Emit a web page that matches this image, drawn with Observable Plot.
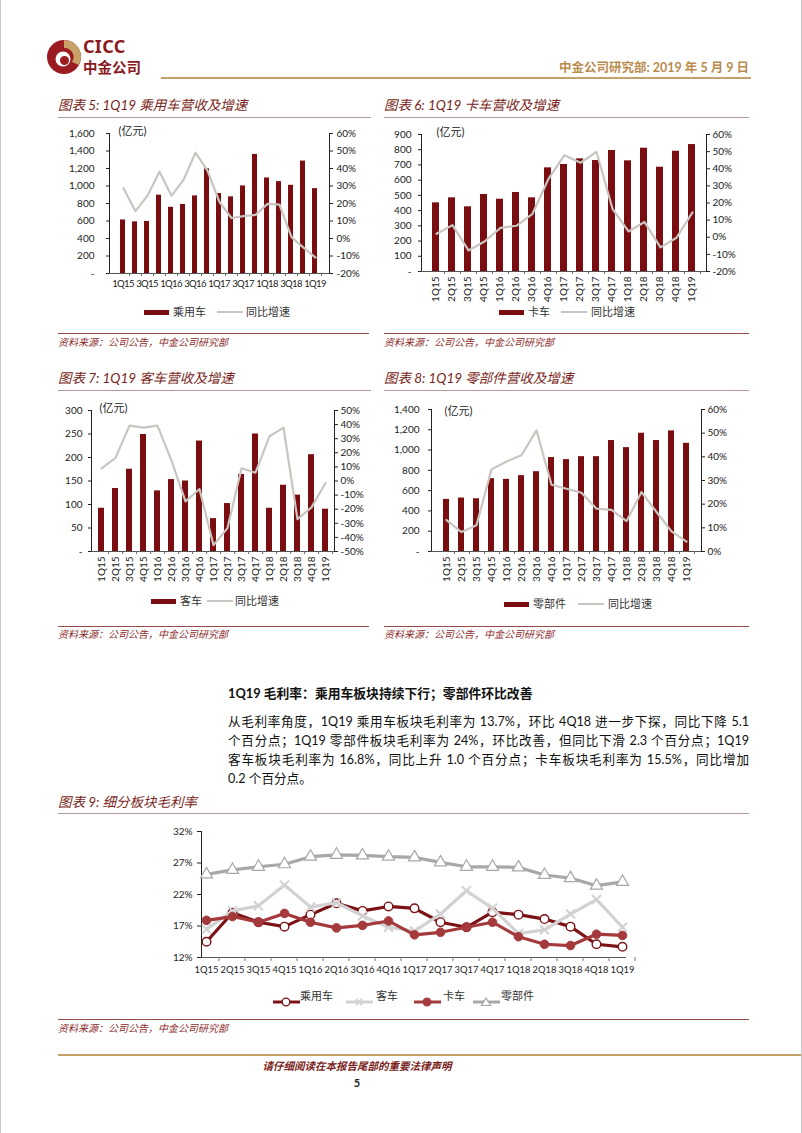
<!DOCTYPE html>
<html><head><meta charset="utf-8">
<script src="https://cdn.jsdelivr.net/npm/d3@7"></script>
<script src="https://cdn.jsdelivr.net/npm/@observablehq/plot@0.6"></script>
<style>
body{margin:0;background:#fff;}
#page{position:relative;width:802px;height:1133px;overflow:hidden;box-sizing:border-box;border-left:1px solid #c8c8c8;border-right:1px solid #c8c8c8;font-family:Lato,"Noto Sans CJK SC",sans-serif;color:#222;background:#fff;}
#page > *{position:absolute;}
.title{font-style:italic;color:#7a1f22;font-size:13.5px;white-space:nowrap;line-height:16px;}
.uline{height:0;border-top:1px solid #b39a9a;}
.srcline{height:0;border-top:1px solid #9b4a4a;}
.src{font-style:italic;color:#8b2c2c;font-size:10px;white-space:nowrap;line-height:12px;}
.lg{font-size:11px;color:#333;white-space:nowrap;line-height:12px;}
.para{font-size:12.6px;line-height:18px;width:521px;text-align:justify;text-align-last:justify;white-space:nowrap;color:#111;}
</style></head>
<body><div id="page"></div>
<script>
// ---------------- data ----------------
const quarters = ["1Q15","2Q15","3Q15","4Q15","1Q16","2Q16","3Q16","4Q16","1Q17","2Q17","3Q17","4Q17","1Q18","2Q18","3Q18","4Q18","1Q19"];

const carRevenue = [612, 590, 595, 895, 757, 789, 887, 1196, 914, 876, 1001, 1361, 1092, 1050, 1008, 1285, 970];
const carGrowth  = [28.7, 15.6, 24.5, 38.2, 24.4, 33.5, 49.0, 38.8, 20.8, 11.7, 12.8, 13.5, 19.8, 19.4, 0.8, -5.2, -10.9];

const truckRevenue = [451, 484, 425, 506, 475, 519, 484, 681, 703, 740, 729, 795, 727, 810, 685, 790, 834];
const truckGrowth  = [2.0, 7.1, -7.7, -2.5, 5.5, 6.7, 13.7, 34.1, 47.9, 43.5, 49.9, 16.6, 3.4, 8.9, -5.9, -0.3, 14.5];

const busRevenue = [92, 134, 175, 249, 129, 153, 150, 235, 70, 102, 164, 250, 92, 141, 120, 206, 90];
const busGrowth  = [9.0, 16.4, 39.3, 37.9, 39.3, 14.4, -14.5, -5.7, -45.5, -33.4, 9.0, 5.9, 31.7, 37.9, -27.1, -18.7, -1.4];

const partsRevenue = [514, 527, 520, 718, 711, 748, 787, 926, 906, 935, 935, 1094, 1024, 1166, 1094, 1189, 1067];
const partsGrowth  = [13.3, 8.2, 11.1, 34.7, 38.0, 40.7, 51.2, 28.2, 26.5, 24.8, 18.1, 17.6, 12.8, 25.1, 16.7, 8.5, 4.2];

const marginCar   = [14.5, 19.1, 17.6, 16.9, 18.8, 20.6, 19.4, 20.1, 19.8, 17.6, 16.8, 19.2, 18.8, 18.1, 16.9, 14.1, 13.7];
const marginBus   = [16.5, 19.4, 20.2, 23.5, 20.0, 20.7, 18.6, 16.8, 16.2, 18.9, 22.6, 19.8, 15.8, 16.4, 18.9, 21.2, 16.8];
const marginTruck = [17.9, 18.5, 17.6, 19.0, 17.6, 16.7, 17.1, 17.8, 15.6, 16.0, 16.8, 17.6, 15.3, 14.1, 13.9, 15.7, 15.5];
const marginParts = [25.2, 25.9, 26.4, 26.8, 28.0, 28.3, 28.2, 28.0, 27.9, 27.1, 26.4, 26.4, 26.3, 25.1, 24.6, 23.4, 24.0];

const carTicks   = [0,200,400,600,800,1000,1200,1400,1600];
const truckTicks = [0,100,200,300,400,500,600,700,800,900];
const busTicks   = [0,50,100,150,200,250,300];
const partsTicks = [0,200,400,600,800,1000,1200,1400];
const growthTicksA = [-20,-10,0,10,20,30,40,50,60];
const growthTicksBus = [-50,-40,-30,-20,-10,0,10,20,30,40,50];
const growthTicksParts = [0,10,20,30,40,50,60];
const marginTicks = [12,17,22,27,32];

const titles = ["图表 5: 1Q19 乘用车营收及增速","图表 6: 1Q19 卡车营收及增速","图表 7: 1Q19 客车营收及增速","图表 8: 1Q19 零部件营收及增速","图表 9: 细分板块毛利率"];
const seriesNames = ["乘用车","卡车","客车","零部件"];
const growthName = "同比增速";
const unitLabel = "(亿元)";
const sourceText = "资料来源：公司公告，中金公司研究部";
const marginNames = ["乘用车","客车","卡车","零部件"];

// ---------------- helpers ----------------
const BAR = "#7a0d10";
const LINE = "#c9c5c0";
const page = document.getElementById("page");
function add(html, left, top, cls, extra) {
  const d = document.createElement("div");
  if (cls) d.className = cls;
  d.style.left = left + "px"; d.style.top = top + "px";
  if (extra) Object.assign(d.style, extra);
  d.innerHTML = html;
  page.appendChild(d);
  return d;
}
const baseStyle = {fontFamily: 'Lato, "Noto Sans CJK SC", sans-serif', fontSize: "10px", color: "#222", background: "transparent", overflow: "visible"};

function dual(c) {
  const table = quarters.map((q, i) => ({q, v: c.values[i], g: c.growth[i]}));
  const step = (c.width - c.ml - c.mr) / quarters.length;
  const xs = {domain: quarters, paddingInner: c.pad, paddingOuter: c.pad / 2};
  const dims = {width: c.width, height: c.height, marginLeft: c.ml, marginRight: c.mr, marginTop: c.mt, marginBottom: c.mb, style: baseStyle};
  const bars = Plot.plot({
    ...dims,
    x: xs,
    y: {domain: [0, c.yTicks[c.yTicks.length - 1]], ticks: c.yTicks, tickFormat: d => d === 0 ? "-" : d3.format(",")(d), tickSize: 3, tickPadding: c.padL, label: null, line: true},
    marks: [
      Plot.barY(table, {x: "q", y: "v", fill: BAR}),
      Plot.axisX({tickFormat: c.xFormat, tickSize: 0, tickPadding: c.xPad, tickRotate: c.rotate, fontSize: c.xFont, label: null}),
      Plot.ruleY([0], {stroke: "#555"}),
      Plot.ruleX(quarters, {x: d => d, y1: 0, y2: 0, insetBottom: -3, dx: step / 2, stroke: "#666"}),
      Plot.text([unitLabel], {text: d => d, frameAnchor: "top-left", dx: c.unitDx, dy: c.unitDy, fontSize: 11, fill: "#222"})
    ]
  });
  if (c.xSpacing) {
    bars.querySelectorAll('g[aria-label="x-axis tick label"] text').forEach(t => t.style.letterSpacing = c.xSpacing);
  }
  const lines = Plot.plot({
    ...dims,
    x: {...xs, axis: null},
    y: {domain: [c.gTicks[0], c.gTicks[c.gTicks.length - 1]], ticks: c.gTicks, tickFormat: d => d + "%", axis: "right", tickSize: 3, tickPadding: c.padR, label: null, line: true},
    marks: [Plot.lineY(table, {x: "q", y: "g", stroke: LINE, strokeWidth: 2.2})]
  });
  const wrap = add("", c.left, c.top, null, {width: c.width + "px", height: c.height + "px"});
  for (const s of [bars, lines]) { s.style.position = "absolute"; s.style.left = "0"; s.style.top = "0"; wrap.appendChild(s); }
}

function barLegend(name, rx, tx, lx, gx, y) {
  add("", rx, y - 2.5, null, {width: "25px", height: "5px", background: BAR});
  add(name, tx, y - 6, "lg");
  add("", lx, y - 1, null, {width: "26px", height: "2px", background: LINE});
  add(growthName, gx, y - 6, "lg");
}

// ---------------- header ----------------
add(`<svg width="36" height="38" viewBox="0 0 36 38">
<circle cx="18" cy="19" r="17" fill="#9a1c20"/>
<path d="M18,2 A17,17 0 0,1 33,27 L26,24 A9,9 0 0,0 18,10 Z" fill="#c9a26a"/>
<circle cx="17" cy="21" r="7.5" fill="#fff"/>
<circle cx="18.5" cy="22.5" r="4.5" fill="#9a1c20"/>
</svg>`, 45, 38);
add("CICC", 82, 37, null, {fontFamily: '"Noto Sans", sans-serif', fontWeight: "bold", fontSize: "18px", color: "#8b1a1e", lineHeight: "18px", letterSpacing: "0.3px"});
add("中金公司", 82, 59, null, {fontFamily: '"Noto Sans CJK SC", sans-serif', fontWeight: "bold", fontSize: "14.5px", color: "#8b1a1e", lineHeight: "15px"});
add("中金公司研究部: 2019 年 5 月 9 日", 0, 60, null, {width: "748px", textAlign: "right", fontSize: "12.5px", fontWeight: "bold", color: "#b98b4c", lineHeight: "16px", whiteSpace: "nowrap"});
add("", 160, 77, null, {width: "590px", height: "0", borderTop: "2px solid #c4a06a"});

// ---------------- titles / rules ----------------
add(titles[0], 57, 97, "title"); add("", 57, 117, "uline", {width: "313px"});
add(titles[1], 383, 97, "title"); add("", 383, 117, "uline", {width: "365px"});
add(titles[2], 57, 370, "title"); add("", 57, 390, "uline", {width: "313px"});
add(titles[3], 383, 370, "title"); add("", 383, 390, "uline", {width: "365px"});
add(titles[4], 57, 794, "title"); add("", 57, 813, "uline", {width: "691px"});

add("", 57, 333, "srcline", {width: "311px"}); add(sourceText, 57, 336, "src");
add("", 383, 333, "srcline", {width: "365px"}); add(sourceText, 383, 336, "src");
add("", 57, 626, "srcline", {width: "311px"}); add(sourceText, 57, 628, "src");
add("", 383, 626, "srcline", {width: "365px"}); add(sourceText, 383, 628, "src");
add("", 57, 1019, "srcline", {width: "691px"}); add(sourceText, 57, 1022, "src");

// ---------------- charts 5-8 ----------------
const everyOther = d => quarters.indexOf(d) % 2 === 0 ? d : "";
dual({left: 50, top: 120, width: 320, height: 180, ml: 58, mr: 42, mt: 13, mb: 27, values: carRevenue, growth: carGrowth,
  yTicks: carTicks, gTicks: growthTicksA, pad: 0.56, xFormat: everyOther, xFont: 9.5, xSpacing: "-0.6px", rotate: 0, xPad: 7, padL: 12, padR: 4, unitDx: 9, unitDy: -6});
barLegend(seriesNames[0], 143, 172, 216, 245, 312);

dual({left: 380, top: 120, width: 370, height: 190, ml: 40, mr: 45, mt: 14, mb: 39, values: truckRevenue, growth: truckGrowth,
  yTicks: truckTicks, gTicks: growthTicksA, pad: 0.58, xFormat: d => d, xFont: 10, rotate: -90, xPad: 5, padL: 7, padR: 3, unitDx: 15, unitDy: -6});
barLegend(seriesNames[1], 498, 527, 560, 590, 312);

dual({left: 50, top: 395, width: 320, height: 195, ml: 40, mr: 37, mt: 15, mb: 39, values: busRevenue, growth: busGrowth,
  yTicks: busTicks, gTicks: growthTicksBus, pad: 0.6, xFormat: d => d, xFont: 10, rotate: -90, xPad: 5, padL: 6, padR: 3, unitDx: 8, unitDy: -6});
barLegend(seriesNames[2], 150, 179, 206, 234, 601);

dual({left: 380, top: 395, width: 370, height: 195, ml: 50, mr: 50, mt: 14, mb: 39, values: partsRevenue, growth: partsGrowth,
  yTicks: partsTicks, gTicks: growthTicksParts, pad: 0.6, xFormat: d => d, xFont: 10, rotate: -90, xPad: 5, padL: 9, padR: 3, unitDx: 13, unitDy: -2});
barLegend(seriesNames[3], 503, 532, 577, 607, 604);

// ---------------- text section ----------------
add("1Q19 毛利率：乘用车板块持续下行；零部件环比改善", 227, 684, null, {fontSize: "12.8px", fontWeight: "bold", whiteSpace: "nowrap", lineHeight: "18px", color: "#111"});
add("从毛利率角度，1Q19 乘用车板块毛利率为 13.7%，环比 4Q18 进一步下探，同比下降 5.1", 227, 713, "para");
add("个百分点；1Q19 零部件板块毛利率为 24%，环比改善，但同比下滑 2.3 个百分点；1Q19", 227, 732, "para");
add("客车板块毛利率为 16.8%，同比上升 1.0 个百分点；卡车板块毛利率为 15.5%，同比增加", 227, 751, "para");
add("0.2 个百分点。", 227, 770, "para", {textAlignLast: "left", textAlign: "left"});

// ---------------- chart 9 ----------------
const marginSeries = [
  {name: marginNames[0], values: marginCar,   stroke: "#7b1216", symbol: "circle",   fill: "#fff",    r: 4.3, sw: 1.4},
  {name: marginNames[1], values: marginBus,   stroke: "#d2d2d2", symbol: "times",    fill: "none",    r: 4.2, sw: 2},
  {name: marginNames[2], values: marginTruck, stroke: "#a53a3c", symbol: "circle",   fill: "#a53a3c", r: 4.3, sw: 1},
  {name: marginNames[3], values: marginParts, stroke: "#a8a8a8", symbol: "triangle", fill: "#fff",    r: 4.5, sw: 1.2}
];
{
  const W = 490, ml = 50, mr = 15;
  const step = (W - ml - mr) / quarters.length;
  const marks = [
    Plot.axisX({tickSize: 0, tickPadding: 9, fontSize: 9.4, label: null}),
    Plot.ruleY([12], {stroke: "#555"}),
    Plot.ruleX(quarters, {x: d => d, y1: 12, y2: 12, insetBottom: -4, dx: step / 2, stroke: "#777"})
  ];
  for (const s of marginSeries) {
    const rows = quarters.map((q, i) => ({q, v: s.values[i]}));
    marks.push(Plot.lineY(rows, {x: "q", y: "v", stroke: s.stroke, strokeWidth: 3.2}));
    marks.push(Plot.dot(rows, {x: "q", y: "v", symbol: s.symbol, r: s.r, fill: s.fill, stroke: s.stroke, strokeWidth: s.sw}));
  }
  const chart9 = Plot.plot({
    width: W, height: 165, marginLeft: ml, marginRight: mr, marginTop: 11, marginBottom: 28, style: baseStyle,
    x: {domain: quarters, padding: 0},
    y: {domain: [12, 32], ticks: marginTicks, tickFormat: d => d + "%", tickSize: 4, tickPadding: 5, line: true, label: null},
    marks
  });
  const wrap = add("", 150, 820, null, {width: W + "px", height: "165px"});
  wrap.appendChild(chart9);
  // legend
  const pos = [[272, 299], [345, 375], [413, 442], [472, 500]];
  marginSeries.forEach((s, i) => {
    const [lx, tx] = pos[i];
    let marker = "";
    if (s.symbol === "circle") marker = `<circle cx="13" cy="5" r="3.8" fill="${s.fill}" stroke="${s.stroke}" stroke-width="1.3"/>`;
    else if (s.symbol === "times") marker = `<path d="M10,2 L16,8 M16,2 L10,8" stroke="${s.stroke}" stroke-width="1.8"/>`;
    else marker = `<path d="M13,1 L17.5,8.5 L8.5,8.5 Z" fill="#fff" stroke="${s.stroke}" stroke-width="1.2"/>`;
    add(`<svg width="27" height="10"><line x1="0" y1="5" x2="27" y2="5" stroke="${s.stroke}" stroke-width="3"/>${marker}</svg>`, lx, 991);
    add(s.name, tx, 990, "lg");
  });
}

// ---------------- footer ----------------
add("", 57, 1054, null, {width: "745px", height: "0", borderTop: "2px solid #c4a06a"});
add("请仔细阅读在本报告尾部的重要法律声明", 0, 1059, null, {width: "712px", textAlign: "center", fontSize: "10.5px", fontStyle: "italic", fontWeight: "bold", color: "#7a1f22", lineHeight: "14px"});
add("5", 0, 1076, null, {width: "712px", textAlign: "center", fontSize: "11px", fontWeight: "bold", color: "#222", lineHeight: "14px"});
</script>
</body></html>
